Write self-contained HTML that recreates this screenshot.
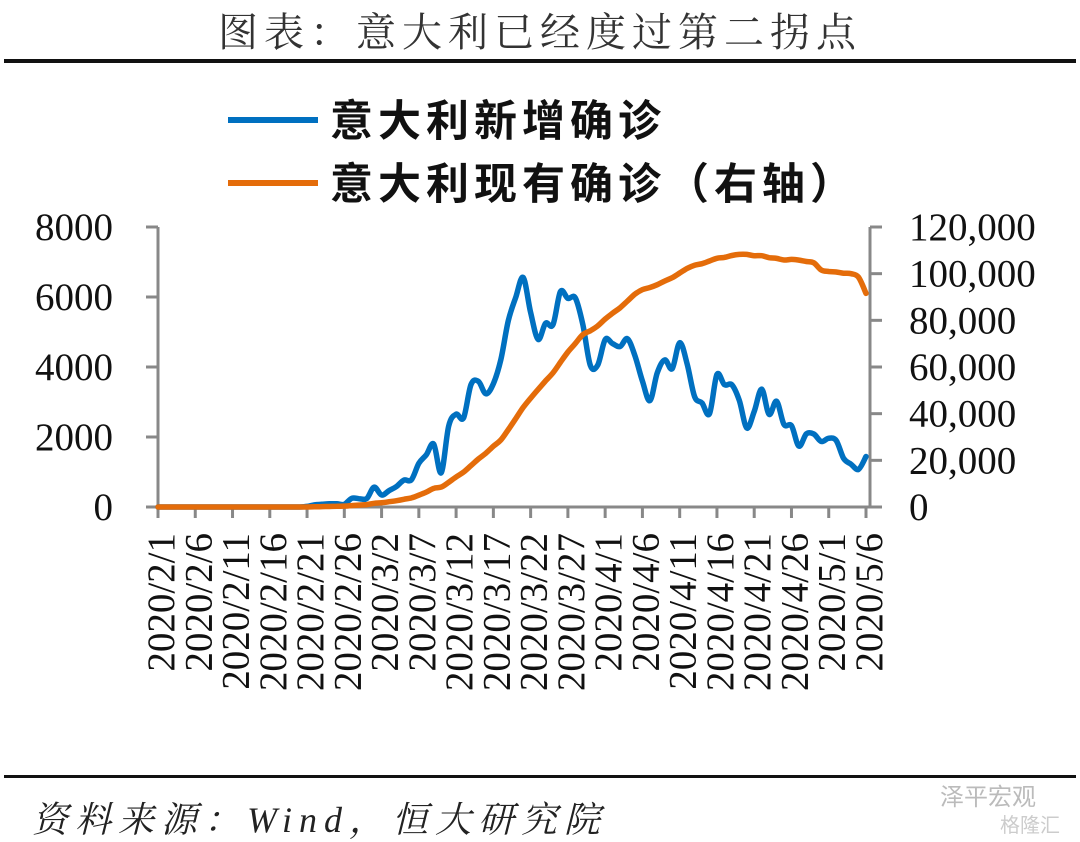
<!DOCTYPE html>
<html><head><meta charset="utf-8"><style>
body{margin:0;background:#fff;}
svg{display:block;}
</style></head><body>
<svg width="1080" height="842" viewBox="0 0 1080 842" xmlns="http://www.w3.org/2000/svg">
<text x="540" y="46" text-anchor="middle" font-family="'Liberation Serif','Noto Serif CJK SC',serif" font-size="40" letter-spacing="6" fill="#333">图表：意大利已经度过第二拐点</text>
<rect x="4" y="59" width="1072" height="4" fill="#111"/>
<rect x="4" y="775" width="1072" height="3" fill="#111"/>
<text x="32" y="832" font-family="'Liberation Serif','Noto Serif CJK SC',serif" font-style="italic" font-size="36" letter-spacing="7" fill="#222">资料来源：Wind，恒大研究院</text>
<text x="940" y="805" font-family="'Liberation Sans','Noto Sans CJK SC',sans-serif" font-size="24" fill="#bbb">泽平宏观</text>
<text x="1000" y="832" font-family="'Liberation Sans','Noto Sans CJK SC',sans-serif" font-size="20" fill="#ccc">格隆汇</text>
<g>
<line x1="228" y1="120" x2="318" y2="120" stroke="#0070C0" stroke-width="6"/>
<text x="330" y="136" font-family="'Liberation Sans','Noto Sans CJK SC',sans-serif" font-weight="bold" font-size="43" letter-spacing="5" fill="#111">意大利新增确诊</text>
<line x1="228" y1="183" x2="318" y2="183" stroke="#E46C0A" stroke-width="6"/>
<text x="330" y="199" font-family="'Liberation Sans','Noto Sans CJK SC',sans-serif" font-weight="bold" font-size="43" letter-spacing="5" fill="#111">意大利现有确诊（右轴）</text>
</g>
<g id="plot"></g>
</svg>
<script>
const leftTicks=[0,2000,4000,6000,8000];
const rightTicks=[0,20000,40000,60000,80000,100000,120000];
const rightTickLabels=["0","20,000","40,000","60,000","80,000","100,000","120,000"];
// daily series starting 2020/2/1 (96 days to 2020/5/6)
const newCases=[0,0,0,0,0,0,0,0,0,0,0,0,0,0,0,0,0,0,0,0,17,62,77,93,93,78,250,238,240,566,342,466,587,769,778,1247,1492,1797,977,2313,2651,2547,3497,3590,3233,3526,4207,5322,5986,6557,5560,4789,5249,5210,6153,5959,5974,5217,4050,4053,4782,4668,4585,4805,4316,3599,3039,3836,4204,3951,4694,4092,3153,2972,2667,3786,3493,3491,3047,2256,2729,3370,2646,3021,2357,2324,1739,2091,2086,1872,1965,1900,1389,1221,1075,1444];
const activeCases=[0,0,0,0,0,0,0,0,0,0,0,0,0,0,0,0,0,0,0,0,19,76,150,221,311,385,588,821,1049,1577,1835,2263,2706,3296,3916,5061,6387,7985,8514,10590,12839,14955,17750,20603,23073,26062,28710,33190,37860,42681,46638,50418,54030,57521,62013,66414,70065,73880,75528,77635,80572,83049,85388,88274,91246,93187,94067,95262,96877,98273,100269,102253,103616,104291,105418,106607,106962,107771,108257,108237,107709,107699,106848,106527,105847,106103,105813,105205,104657,101551,100943,100704,100179,99980,98467,91528];
const dateLabels=["2020/2/1","2020/2/6","2020/2/11","2020/2/16","2020/2/21","2020/2/26","2020/3/2","2020/3/7","2020/3/12","2020/3/17","2020/3/22","2020/3/27","2020/4/1","2020/4/6","2020/4/11","2020/4/16","2020/4/21","2020/4/26","2020/5/1","2020/5/6"];

const NS="http://www.w3.org/2000/svg";
const g=document.getElementById('plot');
const X0=158,X1=866,Y0=507,Y1=227;
const N=newCases.length;
const x=i=>X0+(X1-X0)*i/(N-1);
const yL=v=>Y0-(Y0-Y1)*v/8000;
const yR=v=>Y0-(Y0-Y1)*v/120000;
function mk(tag,attrs){const e=document.createElementNS(NS,tag);for(const k in attrs)e.setAttribute(k,attrs[k]);g.appendChild(e);return e;}
const serif="'Liberation Serif','Noto Serif CJK SC',serif";

let e=mk('line',{x1:X0,y1:Y1,x2:X0,y2:Y0,stroke:'#888','stroke-width':3});


e=mk('line',{x1:870,y1:Y1,x2:870,y2:Y0,stroke:'#888','stroke-width':3});


e=mk('line',{x1:X0,y1:Y0,x2:870,y2:Y0,stroke:'#888','stroke-width':3});



leftTicks.forEach(v=>{
  const t=mk('line',{x1:X0-12,y1:yL(v),x2:X0,y2:yL(v),stroke:'#888','stroke-width':3});
  
  
  const l=mk('text',{x:113,y:yL(v)+13,'text-anchor':'end','font-family':serif,'font-size':39,fill:'#111'});
  l.textContent=v;
  
  
});
rightTicks.forEach((v,i)=>{
  const t=mk('line',{x1:870,y1:yR(v),x2:882,y2:yR(v),stroke:'#888','stroke-width':3});
  
  
  const l=mk('text',{x:909,y:yR(v)+13,'font-family':serif,'font-size':39,fill:'#111'});
  l.textContent=rightTickLabels[i];
  
  
});
dateLabels.forEach((d,i)=>{
  const xi=x(i*5);
  const t=mk('line',{x1:xi,y1:Y0,x2:xi,y2:Y0+11,stroke:'#888','stroke-width':3});
  
  
  const l=mk('text',{x:xi+16,y:533,'text-anchor':'end','font-family':serif,'font-size':39,fill:'#111',transform:`rotate(-90 ${xi+16} 533)`});
  l.textContent=d;
  
  
});
function path(arr,yf){
  const p=arr.map((v,i)=>[x(i),yf(v)]);
  let d='M'+p[0][0].toFixed(1)+','+p[0][1].toFixed(1);
  for(let i=0;i<p.length-1;i++){
    const p0=p[Math.max(0,i-1)],p1=p[i],p2=p[i+1],p3=p[Math.min(p.length-1,i+2)];
    const c1x=p1[0]+(p2[0]-p0[0])/6,c1y=p1[1]+(p2[1]-p0[1])/6;
    const c2x=p2[0]-(p3[0]-p1[0])/6,c2y=p2[1]-(p3[1]-p1[1])/6;
    d+='C'+c1x.toFixed(1)+','+c1y.toFixed(1)+' '+c2x.toFixed(1)+','+c2y.toFixed(1)+' '+p2[0].toFixed(1)+','+p2[1].toFixed(1);
  }
  return d;
}
e=mk('path',{d:path(newCases,yL),fill:'none',stroke:'#0070C0','stroke-width':5.5,'stroke-linejoin':'round','stroke-linecap':'round'});


e=mk('path',{d:path(activeCases,yR),fill:'none',stroke:'#E46C0A','stroke-width':5.5,'stroke-linejoin':'round','stroke-linecap':'round'});


</script>
</body></html>
